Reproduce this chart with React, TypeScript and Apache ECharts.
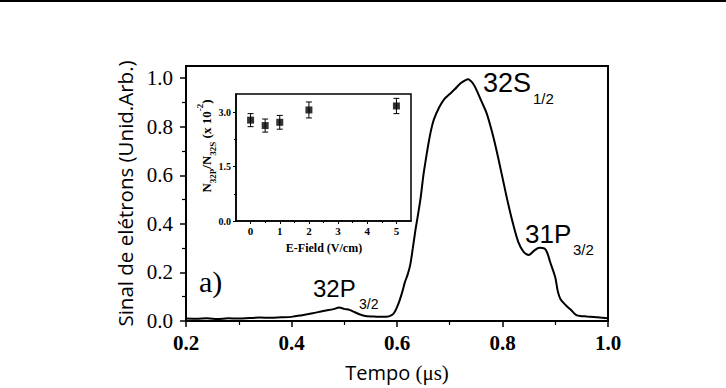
import React, { useEffect, useRef } from "react";
import * as echarts from "echarts";

// Main trace: electron signal vs time
const timeUs = [
  0.2, 0.22, 0.24, 0.26, 0.28, 0.3, 0.32, 0.34, 0.36, 0.38, 0.4, 0.42, 0.44, 0.46, 0.48, 0.49, 0.5,
  0.51, 0.52, 0.53, 0.54, 0.56, 0.58, 0.59, 0.595, 0.6, 0.605, 0.61, 0.615, 0.62, 0.625, 0.63, 0.635,
  0.64, 0.645, 0.65, 0.655, 0.66, 0.665, 0.67, 0.68, 0.69, 0.7, 0.71, 0.72, 0.73, 0.735, 0.74, 0.745,
  0.75, 0.76, 0.77, 0.78, 0.79, 0.8, 0.81, 0.82, 0.83, 0.84, 0.85, 0.86, 0.87, 0.88, 0.885, 0.89, 0.9,
  0.905, 0.91, 0.92, 0.93, 0.94, 0.95, 0.96, 0.98, 1.0,
];
const signal = [
  0.01, 0.009, 0.011, 0.008, 0.011, 0.01, 0.012, 0.014, 0.013, 0.015, 0.017, 0.024, 0.032, 0.041, 0.049, 0.056, 0.05,
  0.046, 0.036, 0.027, 0.021, 0.018, 0.017, 0.024, 0.035, 0.057, 0.085, 0.12, 0.16, 0.19, 0.23, 0.3, 0.375,
  0.44, 0.51, 0.6, 0.67, 0.735, 0.79, 0.83, 0.88, 0.915, 0.935, 0.955, 0.978, 0.992, 0.995, 0.988, 0.975,
  0.955, 0.905, 0.855, 0.78, 0.69, 0.59, 0.49, 0.4, 0.325, 0.285, 0.272, 0.29, 0.302, 0.298, 0.28, 0.245, 0.18,
  0.12, 0.09, 0.065, 0.045, 0.024, 0.02, 0.019, 0.015, 0.011,
];

const mainXTicks = [0.2, 0.4, 0.6, 0.8, 1.0];
const mainXMinor = [0.3, 0.5, 0.7, 0.9];
const mainYTicks = [0, 0.2, 0.4, 0.6, 0.8, 1.0];
const mainYMinor = [0.1, 0.3, 0.5, 0.7, 0.9];

// Inset: ratio vs E-field
const eField = [0, 0.5, 1, 2, 5];
const ratio = [2.78, 2.63, 2.72, 3.06, 3.17];
const ratioErr = [0.18, 0.18, 0.19, 0.22, 0.21];
const insetXTicks = [0, 1, 2, 3, 4, 5];
const insetXMinor = [0.5, 1.5, 2.5, 3.5, 4.5];
const insetYTicks = [0, 1.5, 3.0];
const insetYMinor = [0.75, 2.25];

const SERIF = "Liberation Serif";
const SANS = "Liberation Sans";

export default function App() {
  const ref = useRef<HTMLDivElement>(null);
  useEffect(() => {
    if (!ref.current) return;
    const chart = echarts.init(ref.current, undefined, { renderer: "svg" });
    const black = "#000";
    const mainLine = { onZero: false, lineStyle: { color: black, width: 2 } };
    const insetLine = { onZero: false, lineStyle: { color: black, width: 1.5 } };
    const noLine = { show: false, onZero: false };
    const txt = (text: string, x: number, y: number, fontSize: number, family: string, extra: any = {}) => ({
      type: "text", x, y,
      style: {
        text, fontSize, fontFamily: family, fill: black,
        align: "left", verticalAlign: "middle", textAlign: "left", textVerticalAlign: "middle", ...extra,
      },
    });

    const option: any = {
      animation: false,
      backgroundColor: "#fff",
      grid: [
        { left: 186, top: 66, right: 118, bottom: 64, show: true, borderColor: black, borderWidth: 2, backgroundColor: "transparent" },
        { left: 236, top: 94, right: 315, bottom: 167, show: true, borderColor: black, borderWidth: 1.5, backgroundColor: "#fff" },
      ],
      xAxis: [
        {
          type: "value", gridIndex: 0, min: 0.2, max: 1.0,
          axisLine: mainLine,
          axisTick: { customValues: mainXTicks, length: 6, lineStyle: { color: black, width: 1.5 } },
          axisLabel: {
            customValues: mainXTicks, formatter: (v: number) => v.toFixed(1),
            fontFamily: SERIF, fontWeight: "bold", fontSize: 21, color: black, margin: 11,
          },
          splitLine: { show: false },
          name: "{a|Tempo }{b|(μs)}", nameLocation: "middle", nameGap: 41,
          nameTextStyle: {
            rich: {
              a: { fontFamily: "Open Sans", fontSize: 20, color: black },
              b: { fontFamily: SERIF, fontSize: 21, color: black },
            },
          },
        },
        {
          type: "value", gridIndex: 0, min: 0.2, max: 1.0, position: "bottom",
          axisLine: noLine,
          axisTick: { customValues: mainXMinor, length: 4, lineStyle: { color: black, width: 1.2 } },
          axisLabel: { show: false }, splitLine: { show: false },
        },
        {
          type: "value", gridIndex: 1, min: -0.5, max: 5.5,
          axisLine: insetLine,
          axisTick: { customValues: insetXTicks, length: 3, lineStyle: { color: black, width: 1 } },
          axisLabel: {
            customValues: insetXTicks, fontFamily: SERIF, fontWeight: "bold", fontSize: 11, color: black, margin: 4,
          },
          splitLine: { show: false },
        },
        {
          type: "value", gridIndex: 1, min: -0.5, max: 5.5, position: "bottom",
          axisLine: noLine,
          axisTick: { customValues: insetXMinor, length: 2, lineStyle: { color: black, width: 1 } },
          axisLabel: { show: false }, splitLine: { show: false },
        },
      ],
      yAxis: [
        {
          type: "value", gridIndex: 0, min: 0, max: 1.05,
          axisLine: mainLine,
          axisTick: { customValues: mainYTicks, length: 6, lineStyle: { color: black, width: 1.5 } },
          axisLabel: {
            customValues: mainYTicks, formatter: (v: number) => v.toFixed(1),
            fontFamily: SERIF, fontSize: 21, color: black, margin: 13,
          },
          splitLine: { show: false },
          name: "Sinal de elétrons (Unid.Arb.)", nameLocation: "middle", nameRotate: 90, nameGap: 43,
          nameTextStyle: { fontFamily: "Open Sans", fontSize: 20.5, color: black },
        },
        {
          type: "value", gridIndex: 0, min: 0, max: 1.05, position: "left",
          axisLine: noLine,
          axisTick: { customValues: mainYMinor, length: 4, lineStyle: { color: black, width: 1.2 } },
          axisLabel: { show: false }, splitLine: { show: false },
        },
        {
          type: "value", gridIndex: 1, min: 0, max: 3.5,
          axisLine: insetLine,
          axisTick: { customValues: insetYTicks, length: 3, lineStyle: { color: black, width: 1 } },
          axisLabel: {
            customValues: insetYTicks, formatter: (v: number) => v.toFixed(1),
            fontFamily: SERIF, fontWeight: "bold", fontSize: 10, color: black, margin: 5,
          },
          splitLine: { show: false },
        },
        {
          type: "value", gridIndex: 1, min: 0, max: 3.5, position: "left",
          axisLine: noLine,
          axisTick: { customValues: insetYMinor, length: 2, lineStyle: { color: black, width: 1 } },
          axisLabel: { show: false }, splitLine: { show: false },
        },
      ],
      series: [
        {
          type: "line", xAxisIndex: 0, yAxisIndex: 0,
          data: timeUs.map((t, i) => [t, signal[i]]),
          showSymbol: false, symbol: "none", smooth: 0.3,
          lineStyle: { color: black, width: 2 },
        },
        {
          type: "custom", xAxisIndex: 2, yAxisIndex: 2,
          data: eField.map((x, i) => [x, ratio[i], ratioErr[i]]),
          renderItem: (params: any, api: any) => {
            const x = api.value(0);
            const y = api.value(1);
            const e = api.value(2);
            const top = api.coord([x, y + e]);
            const bot = api.coord([x, y - e]);
            const cap = 3;
            const st = { stroke: black, lineWidth: 1 };
            return {
              type: "group",
              children: [
                { type: "line", shape: { x1: top[0], y1: top[1], x2: bot[0], y2: bot[1] }, style: st },
                { type: "line", shape: { x1: top[0] - cap, y1: top[1], x2: top[0] + cap, y2: top[1] }, style: st },
                { type: "line", shape: { x1: bot[0] - cap, y1: bot[1], x2: bot[0] + cap, y2: bot[1] }, style: st },
              ],
            };
          },
        },
        {
          type: "scatter", xAxisIndex: 2, yAxisIndex: 2,
          data: eField.map((x, i) => [x, ratio[i]]),
          symbol: "rect", symbolSize: 7,
          itemStyle: { color: black },
        },
      ],
      graphic: [
        { type: "line", shape: { x1: 0, y1: 1, x2: 726, y2: 1 }, style: { stroke: black, lineWidth: 2 } },
        txt("32S", 483, 82.5, 27, SANS),
        txt("1/2", 533, 98, 15, SANS),
        txt("31P", 525, 233.5, 26, SANS),
        txt("3/2", 573, 249, 15, SANS),
        txt("32P", 313, 288, 24, SANS),
        txt("3/2", 359, 304, 14, SANS),
        txt("a)", 199, 281, 30, SERIF),
        txt("E-Field (V/cm)", 324, 248, 12, SERIF, { fontWeight: "bold", align: "center", textAlign: "center" }),
        {
          type: "text", x: 206, y: 146, rotation: Math.PI / 2,
          style: {
            text: "{m|N}{s|32P}{m|/N}{s|32S}{m| (x 10}{p|-2}{m|)}",
            fill: black, align: "center", verticalAlign: "middle", textAlign: "center", textVerticalAlign: "middle",
            rich: {
              m: { fontSize: 13, fontFamily: SERIF, fontWeight: "bold", lineHeight: 22, fill: black },
              s: { fontSize: 9, fontFamily: SERIF, fontWeight: "bold", lineHeight: 9, verticalAlign: "bottom", fill: black },
              p: { fontSize: 9, fontFamily: SERIF, fontWeight: "bold", lineHeight: 9, verticalAlign: "top", fill: black },
            },
          },
        },
      ],
    };
    chart.setOption(option);
    return () => chart.dispose();
  }, []);
  return (
    <div
      ref={ref}
      style={{ position: "fixed", left: 0, top: 0, width: 726, height: 388, background: "#fff" }}
    />
  );
}
